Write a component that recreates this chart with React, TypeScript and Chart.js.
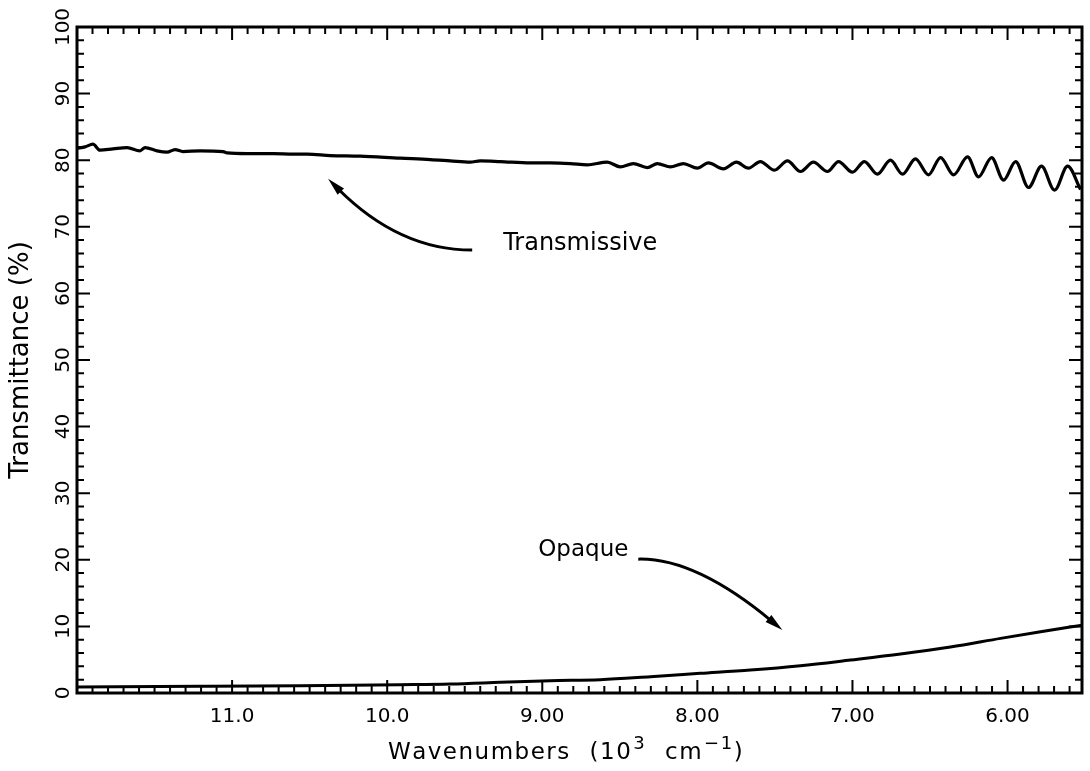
import React, { useEffect, useRef } from "react";
import { Chart, registerables } from "chart.js";

Chart.register(...registerables);

// Transmissive spectrum (wavenumber in 10^3 cm^-1, transmittance %)
const transWavenumber = [
  12.0, 11.948, 11.897, 11.852, 11.768, 11.677, 11.594, 11.561, 11.484, 11.419,
  11.368, 11.316, 11.206, 11.058, 11.032, 10.903, 10.735, 10.606, 10.516, 10.368,
  10.174, 9.916, 9.723, 9.594, 9.465, 9.4, 9.271, 9.077, 8.948, 8.819,
  8.71, 8.581, 8.497, 8.413, 8.323, 8.258, 8.174, 8.09, 8.0, 7.929,
  7.832, 7.748, 7.671, 7.594, 7.503, 7.419, 7.335, 7.252, 7.161, 7.09,
  7.0, 6.923, 6.839, 6.755, 6.677, 6.594, 6.51, 6.432, 6.348, 6.258,
  6.187, 6.103, 6.026, 5.948, 5.865, 5.781, 5.697, 5.613, 5.529,
];
const transValue = [
  81.8, 82.0, 82.4, 81.5, 81.7, 81.9, 81.4, 81.9, 81.4, 81.2,
  81.6, 81.3, 81.4, 81.3, 81.1, 81.0, 81.0, 80.9, 80.9, 80.7,
  80.6, 80.3, 80.1, 79.9, 79.7, 79.9, 79.8, 79.6, 79.6, 79.5,
  79.3, 79.7, 79.0, 79.5, 78.9, 79.5, 79.0, 79.5, 78.8, 79.6,
  78.7, 79.7, 78.8, 79.8, 78.5, 79.9, 78.3, 79.7, 78.3, 79.8,
  78.2, 79.8, 77.9, 80.0, 77.9, 80.2, 77.8, 80.4, 77.8, 80.5,
  77.5, 80.4, 77.0, 79.8, 75.9, 79.1, 75.5, 79.1, 75.6,
];

// Opaque spectrum
const opaqueWavenumber = [
  12.0, 11.206, 10.561, 9.916, 9.594, 9.271, 8.948, 8.626, 8.303, 7.981,
  7.658, 7.335, 7.013, 6.69, 6.368, 6.045, 5.787, 5.516,
];
const opaqueValue = [
  0.9, 1.0, 1.1, 1.25, 1.35, 1.6, 1.85, 2.0, 2.45, 2.95,
  3.45, 4.1, 4.95, 5.85, 6.9, 8.2, 9.2, 10.2,
];

const xTickValues = [11, 10, 9, 8, 7, 6];
const xTickLabels = ["11.0", "10.0", "9.00", "8.00", "7.00", "6.00"];
const yTickValues = [0, 10, 20, 30, 40, 50, 60, 70, 80, 90, 100];
const yTickLabels = ["0", "10", "20", "30", "40", "50", "60", "70", "80", "90", "100"];

const xMin = 5.52;
const xMax = 12.0;
const yMin = 0;
const yMax = 100;
const xMinorPerUnit = 10;
const yMinorStep = 2;

// x title pieces: [text, isSuperscript]
const xTitleParts: [string, boolean][] = [
  ["Wavenumbers", false],
  [" (10", false],
  ["3", true],
  [" cm", false],
  ["−1", true],
  [")", false],
];
const yTitle = "Transmittance (%)";

// Annotation labels with curved arrows (data coordinates)
const annotationTexts = ["Transmissive", "Opaque"];
const annotationFontSizes = [24, 23];
const annotationTextPos = [
  [9.252, 67.4],
  [9.026, 21.5],
];
const annotationArrows = [
  [
    [9.452, 66.5],
    [9.923, 66.5],
    [10.381, 77.2],
  ],
  [
    [8.381, 20.1],
    [8.013, 20.3],
    [7.452, 9.46],
  ],
];

const FONT = "'DejaVu Sans', 'Liberation Sans', sans-serif";

const framePlugin = {
  id: "frameTicks",
  afterDatasetsDraw(chart: any) {
    const { ctx, chartArea: a, scales } = chart;
    const xs = scales.x;
    const ys = scales.y;
    ctx.save();
    ctx.strokeStyle = "#000";
    ctx.fillStyle = "#000";
    ctx.lineCap = "butt";

    // frame
    ctx.lineWidth = 3;
    ctx.strokeRect(a.left, a.top, a.right - a.left, a.bottom - a.top);

    // x ticks (inward, bottom and top)
    ctx.lineWidth = 2;
    const iStart = Math.ceil(xMin * xMinorPerUnit);
    const iEnd = Math.floor(xMax * xMinorPerUnit);
    for (let i = iStart; i <= iEnd; i++) {
      const px = xs.getPixelForValue(i / xMinorPerUnit);
      if (px <= a.left + 1 || px >= a.right - 1) continue;
      const len = i % xMinorPerUnit === 0 ? 13 : 7;
      ctx.beginPath();
      ctx.moveTo(px, a.bottom);
      ctx.lineTo(px, a.bottom - len);
      ctx.moveTo(px, a.top);
      ctx.lineTo(px, a.top + len);
      ctx.stroke();
    }
    // y ticks (inward, left and right)
    for (let v = yMin; v <= yMax; v += yMinorStep) {
      const py = ys.getPixelForValue(v);
      if (py <= a.top + 1 || py >= a.bottom - 1) continue;
      const len = v % 10 === 0 ? 13 : 7;
      ctx.beginPath();
      ctx.moveTo(a.left, py);
      ctx.lineTo(a.left + len, py);
      ctx.moveTo(a.right, py);
      ctx.lineTo(a.right - len, py);
      ctx.stroke();
    }

    // y tick labels (rotated)
    ctx.font = `20px ${FONT}`;
    ctx.textAlign = "center";
    ctx.textBaseline = "middle";
    yTickValues.forEach((v, i) => {
      const py = ys.getPixelForValue(v);
      ctx.save();
      ctx.translate(a.left - 13, py);
      ctx.rotate(-Math.PI / 2);
      ctx.fillText(yTickLabels[i], 0, 0);
      ctx.restore();
    });

    // x title with superscripts (slightly letter-spaced)
    const mainFont = `23px ${FONT}`;
    const supFont = `18px ${FONT}`;
    const spacing = 1.5;
    const spaceExtra = 10;
    const measure = (t: string, sup: boolean) => {
      ctx.font = sup ? supFont : mainFont;
      let w = 0;
      for (const ch of t) w += ctx.measureText(ch).width + spacing + (ch === " " ? spaceExtra : 0);
      return w + (sup ? 1 : 0);
    };
    const widths = xTitleParts.map(([t, sup]) => measure(t, sup));
    const total = widths.reduce((s, w) => s + w, 0);
    let cx = 566 - total / 2;
    const baseY = 759;
    ctx.textAlign = "left";
    ctx.textBaseline = "alphabetic";
    xTitleParts.forEach(([t, sup]) => {
      ctx.font = sup ? supFont : mainFont;
      let px = cx + (sup ? 1 : 0);
      for (const ch of t) {
        ctx.fillText(ch, px, sup ? baseY - 10 : baseY);
        px += ctx.measureText(ch).width + spacing + (ch === " " ? spaceExtra : 0);
      }
      cx = px + (sup ? 1 : 0) - (sup ? 1 : 0);
    });

    // annotations
    ctx.textAlign = "left";
    ctx.textBaseline = "middle";
    annotationTexts.forEach((t, k) => {
      ctx.font = `${annotationFontSizes[k]}px ${FONT}`;
      const [tx, ty] = annotationTextPos[k];
      ctx.fillText(t, xs.getPixelForValue(tx), ys.getPixelForValue(ty));
      const pts = annotationArrows[k].map(([x, y]) => [xs.getPixelForValue(x), ys.getPixelForValue(y)]);
      const [p0, c, p2] = pts;
      const ang = Math.atan2(p2[1] - c[1], p2[0] - c[0]);
      const headLen = 18;
      const headW = 4.5;
      const bx = p2[0] - Math.cos(ang) * headLen;
      const by = p2[1] - Math.sin(ang) * headLen;
      ctx.lineWidth = 3;
      ctx.beginPath();
      ctx.moveTo(p0[0], p0[1]);
      ctx.quadraticCurveTo(c[0], c[1], bx + Math.cos(ang) * 4, by + Math.sin(ang) * 4);
      ctx.stroke();
      ctx.beginPath();
      ctx.moveTo(p2[0], p2[1]);
      ctx.lineTo(bx - Math.sin(ang) * headW, by + Math.cos(ang) * headW);
      ctx.lineTo(bx + Math.sin(ang) * headW, by - Math.cos(ang) * headW);
      ctx.closePath();
      ctx.fill();
    });

    ctx.restore();
  },
};

export default function App() {
  const canvasRef = useRef<HTMLCanvasElement | null>(null);

  useEffect(() => {
    const canvas = canvasRef.current;
    if (!canvas) return;
    const chart = new Chart(canvas, {
      type: "line",
      data: {
        datasets: [
          {
            label: "Transmissive",
            data: transWavenumber.map((x, i) => ({ x, y: transValue[i] })),
            borderColor: "#000",
            borderWidth: 3.2,
            pointRadius: 0,
            cubicInterpolationMode: "monotone",
            fill: false,
          },
          {
            label: "Opaque",
            data: opaqueWavenumber.map((x, i) => ({ x, y: opaqueValue[i] })),
            borderColor: "#000",
            borderWidth: 3,
            pointRadius: 0,
            cubicInterpolationMode: "monotone",
            fill: false,
          },
        ],
      },
      options: {
        animation: false,
        responsive: false,
        maintainAspectRatio: false,
        layout: { padding: { top: 27, right: 8, left: 0, bottom: 0 } },
        plugins: {
          legend: { display: false },
          tooltip: { enabled: false },
        },
        scales: {
          x: {
            type: "linear",
            reverse: true,
            min: xMin,
            max: xMax,
            grid: { display: false, drawTicks: false },
            border: { display: false },
            afterBuildTicks: (s: any) => {
              s.ticks = xTickValues.map((v) => ({ value: v }));
            },
            afterFit: (s: any) => {
              s.height = 78;
            },
            ticks: {
              autoSkip: false,
              maxRotation: 0,
              minRotation: 0,
              padding: 12,
              color: "#000",
              font: { family: FONT, size: 20 },
              callback: (v: any) => {
                const idx = xTickValues.indexOf(Number(v));
                return idx >= 0 ? xTickLabels[idx] : "";
              },
            },
            title: { display: false },
          },
          y: {
            type: "linear",
            min: yMin,
            max: yMax,
            grid: { display: false, drawTicks: false },
            border: { display: false },
            afterBuildTicks: (s: any) => {
              s.ticks = yTickValues.map((v) => ({ value: v }));
            },
            afterFit: (s: any) => {
              s.width = 77;
            },
            ticks: { display: false },
            title: {
              display: true,
              text: yTitle,
              color: "#000",
              font: { family: FONT, size: 26 },
              padding: { top: 6, bottom: 0 },
            },
          },
        },
      },
      plugins: [framePlugin],
    } as any);
    return () => chart.destroy();
  }, []);

  return (
    <div style={{ position: "fixed", left: 0, top: 0, width: 1090, height: 771, background: "#fff" }}>
      <canvas ref={canvasRef} width={1090} height={771} style={{ display: "block" }} />
    </div>
  );
}
